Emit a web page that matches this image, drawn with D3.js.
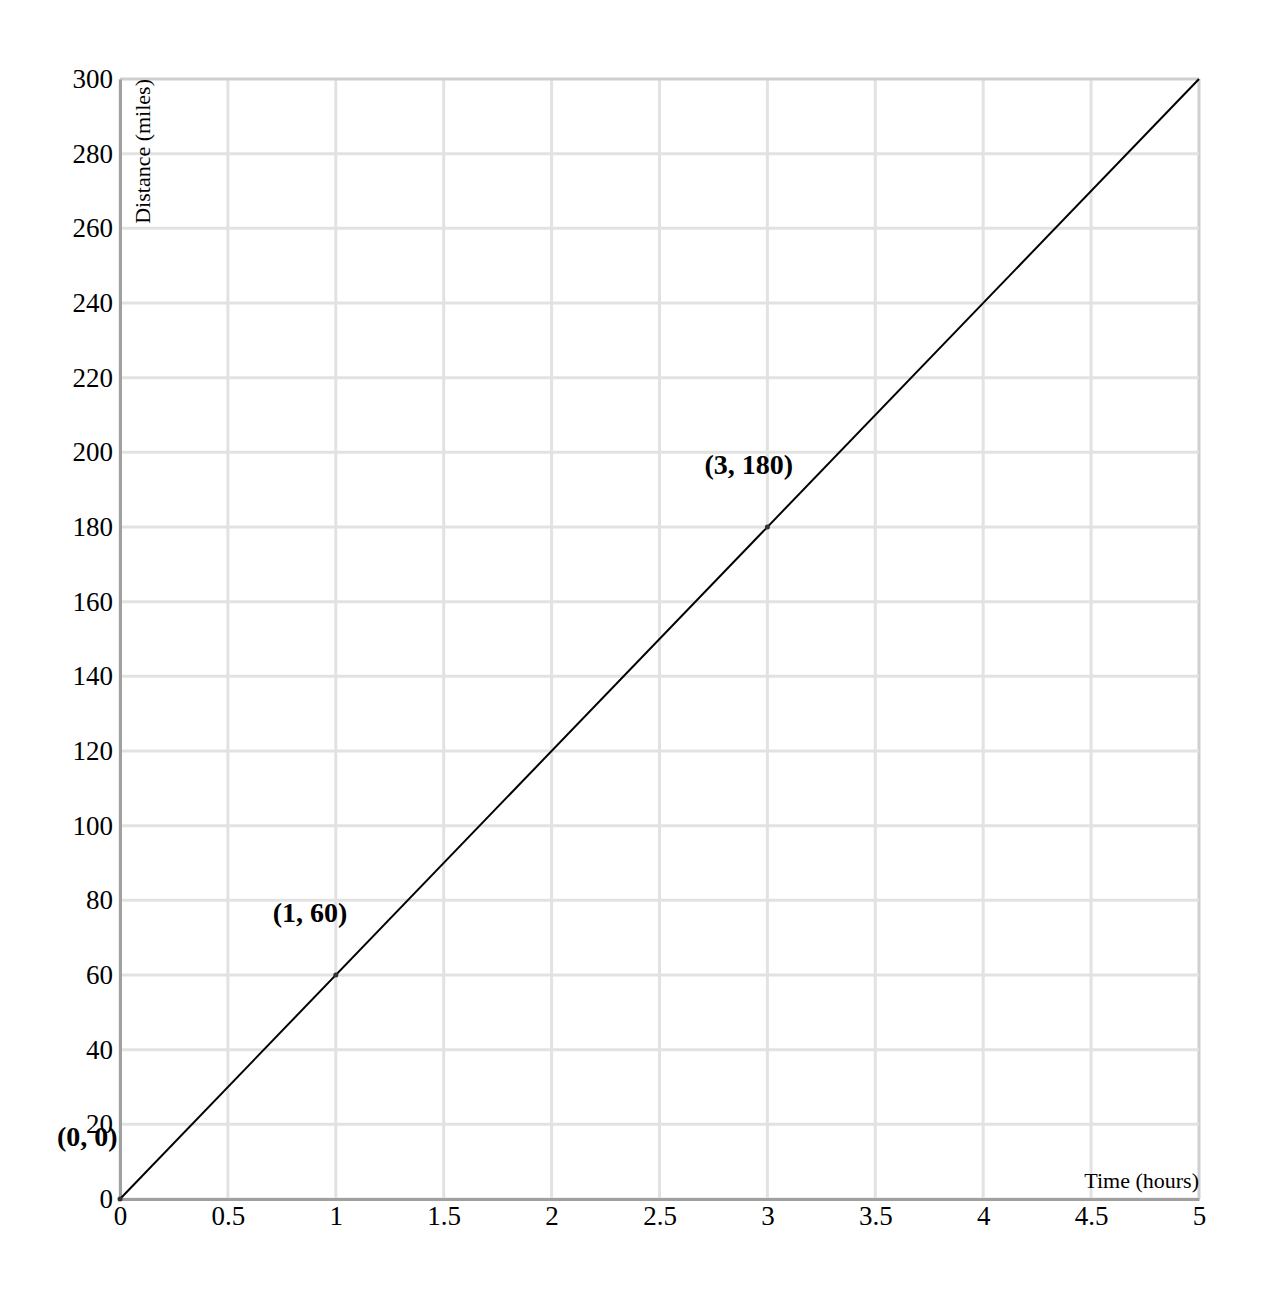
<!DOCTYPE html>
<html>
<head>
<meta charset="utf-8">
<script src="https://cdn.jsdelivr.net/npm/d3@7"></script>
<style>
  body { margin: 0; background: #fff; }
  text { font-family: "Liberation Serif", "Times New Roman", serif; }
</style>
</head>
<body>
<svg width="1280" height="1294"></svg>
<script>
var xTicks = [0, 0.5, 1, 1.5, 2, 2.5, 3, 3.5, 4, 4.5, 5];
var yTicks = [0, 20, 40, 60, 80, 100, 120, 140, 160, 180, 200, 220, 240, 260, 280, 300];
var lineTimes = [0, 5];
var lineDists = [0, 300];
var pointTimes = [0, 1, 3];
var pointDists = [0, 60, 180];
var pointLabels = ["(0, 0)", "(1, 60)", "(3, 180)"];

var margin = {top: 79, right: 81, bottom: 95, left: 120};
var width = 1280, height = 1294;

var svg = d3.select("svg");

var scX = d3.scaleLinear().domain([0, 5]).range([margin.left, width - margin.right]);
var scY = d3.scaleLinear().domain([0, 300]).range([height - margin.bottom, margin.top]);

// grid
var grid = svg.append("g").attr("id", "grid");
grid.selectAll("line.v").data(xTicks).enter()
    .append("line").attr("class", "v")
    .attr("x1", d => scX(d)).attr("x2", d => scX(d))
    .attr("y1", scY(0)).attr("y2", scY(300))
    .attr("stroke", d => d === 5 ? "#cfcfcf" : "#e2e2e2").attr("stroke-width", 3);
grid.selectAll("line.h").data(yTicks).enter()
    .append("line").attr("class", "h")
    .attr("x1", scX(0)).attr("x2", scX(5))
    .attr("y1", d => scY(d)).attr("y2", d => scY(d))
    .attr("stroke", d => d === 300 ? "#cfcfcf" : "#e2e2e2").attr("stroke-width", 3);

// axes
var xAxis = svg.append("g")
    .attr("transform", "translate(0," + scY(0) + ")")
    .call(d3.axisBottom(scX).tickValues(xTicks).tickSize(0).tickPadding(7).tickFormat(d3.format("")));
var yAxis = svg.append("g")
    .attr("transform", "translate(" + scX(0) + ",0)")
    .call(d3.axisLeft(scY).tickValues(yTicks).tickSize(0).tickPadding(7));
[xAxis, yAxis].forEach(function(a) {
    a.attr("font-size", 27).attr("font-family", null);
    a.select(".domain").attr("stroke", "#a0a0a0").attr("stroke-width", 3);
    a.selectAll("text").attr("fill", "#000");
});

svg.append("text")
    .attr("transform", "translate(150," + margin.top + ") rotate(-90)")
    .attr("text-anchor", "end").attr("font-size", 22)
    .text("Distance (miles)");
svg.append("text")
    .attr("x", scX(5)).attr("y", scY(0) - 11)
    .attr("text-anchor", "end").attr("font-size", 22)
    .text("Time (hours)");

// line
var lineMaker = d3.line().x(d => scX(d[0])).y(d => scY(d[1]));
svg.append("path")
    .attr("fill", "none").attr("stroke", "#000").attr("stroke-width", 2)
    .attr("d", lineMaker(d3.zip(lineTimes, lineDists)));

// points + labels
var pts = d3.zip(pointTimes, pointDists, pointLabels);
svg.append("g").selectAll("circle").data(pts).enter()
    .append("circle").attr("r", 2.5).attr("fill", "#333")
    .attr("cx", d => scX(d[0])).attr("cy", d => scY(d[1]));
svg.append("g").selectAll("text").data(pts).enter()
    .append("text")
    .attr("x", d => scX(d[0]) - 63).attr("y", d => scY(d[1]) - 53)
    .attr("font-size", 28).attr("font-weight", "bold")
    .text(d => d[2]);
</script>
</body>
</html>
